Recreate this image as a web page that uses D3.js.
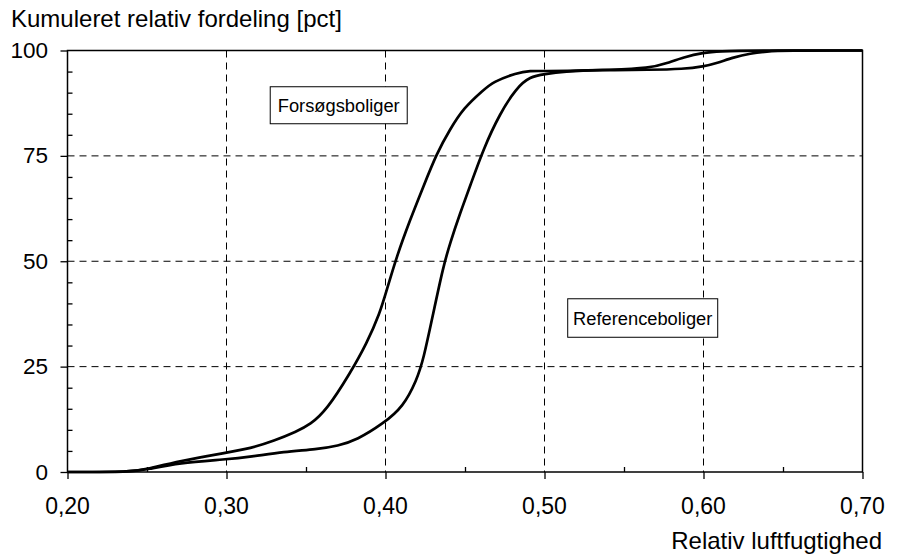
<!DOCTYPE html>
<html>
<head>
  <meta charset="utf-8">
  <title>Kumuleret relativ fordeling</title>
  <style>
    body { margin: 0; background: #fff; }
    text { font-family: "Liberation Sans", Arial, sans-serif; fill: #000; }
  </style>
</head>
<body>
  <div id="plot"></div>
  <script src="https://cdn.jsdelivr.net/npm/d3@7"></script>
  <script>

    // Forsøgsboliger - cumulative distribution
    let forsogX = [0.20, 0.24, 0.25, 0.27, 0.30, 0.315, 0.33, 0.344, 0.3525, 0.363, 0.3777,
                   0.3882, 0.3965, 0.4008, 0.407, 0.4154, 0.4238, 0.4322, 0.4406, 0.449,
                   0.4615, 0.4678, 0.4825, 0.4909, 0.50, 0.52, 0.54, 0.5664, 0.577, 0.5874,
                   0.60, 0.61, 0.63, 0.70];
    let forsogY = [0, 0, 0.7, 2.6, 4.6, 5.6, 7.4, 9.6, 11.2, 14.7, 23.4,
                   30.5, 37.7, 43.2, 51.1, 59.8, 67.7, 75.6, 81.3, 86.3,
                   90.6, 92.6, 94.7, 95.2, 95.1, 95.2, 95.4, 95.8, 97.0, 98.4,
                   99.5, 99.8, 100, 100];

    // Referenceboliger - cumulative distribution
    let refX = [0.20, 0.24, 0.25, 0.27, 0.30, 0.315, 0.336, 0.357, 0.37, 0.382, 0.3986,
                0.4112, 0.4196, 0.4238, 0.43, 0.4363, 0.4406, 0.4469, 0.4531, 0.4615,
                0.472, 0.4825, 0.4909, 0.50, 0.512, 0.535, 0.5664, 0.5874, 0.60, 0.6084,
                0.6189, 0.6294, 0.64, 0.65, 0.70];
    let refY = [0, 0, 0.6, 2.2, 3.0, 3.6, 4.8, 5.4, 6.2, 7.6, 11.5,
                15.5, 21.8, 26.6, 37.6, 48.7, 54.3, 61.4, 67.7, 76.6,
                85.1, 91.2, 93.8, 94.4, 95.0, 95.4, 95.4, 95.6, 96.2, 97.0,
                98.4, 99.3, 99.8, 100, 100];

    let xTicks = [0.20, 0.30, 0.40, 0.50, 0.60, 0.70];
    let xMinor = [0.25, 0.35, 0.45, 0.55, 0.65];
    let yTicks = [0, 25, 50, 75, 100];
    let yMinor = d3.range(5, 100, 5).filter(v => v % 25 !== 0);

    function translate(x, y) {
      return 'translate(' + x + ', ' + y + ')';
    }

    let svgWidth = 900;
    let svgHeight = 555;
    let margin = {top: 50.5, right: 37.5, bottom: 83, left: 67.5};
    let width = svgWidth - margin.left - margin.right;
    let height = svgHeight - margin.top - margin.bottom;

    let root = d3.select('#plot')
      .append('svg')
        .attr('width', svgWidth)
        .attr('height', svgHeight);

    let svg = root.append('g')
      .attr('transform', translate(margin.left, margin.top));

    let x = d3.scaleLinear().domain([0.20, 0.70]).range([0, width]);
    let y = d3.scaleLinear().domain([0, 100]).range([height, 0]);

    let comma = v => d3.format('.2f')(v).replace('.', ',');

    // grid lines
    svg.selectAll('.vgrid')
      .data(xTicks.slice(1, -1))
      .enter()
      .append('line')
        .attr('x1', d => x(d)).attr('x2', d => x(d))
        .attr('y1', 0).attr('y2', height)
        .attr('stroke', '#000')
        .attr('stroke-width', 1)
        .attr('stroke-dasharray', '7,5');

    svg.selectAll('.hgrid')
      .data(yTicks.slice(1, -1))
      .enter()
      .append('line')
        .attr('x1', 0).attr('x2', width)
        .attr('y1', d => y(d)).attr('y2', d => y(d))
        .attr('stroke', '#000')
        .attr('stroke-width', 1)
        .attr('stroke-dasharray', '7,5');

    // frame
    svg.append('rect')
      .attr('width', width)
      .attr('height', height)
      .attr('fill', 'none')
      .attr('stroke', '#000')
      .attr('stroke-width', 1.5);

    // axes
    let xAxis = d3.axisBottom(x).tickValues(xTicks).tickSize(7).tickFormat('');
    let yAxis = d3.axisLeft(y).tickValues(yTicks).tickSize(7).tickFormat('');
    let xMinorAxis = d3.axisTop(x).tickValues(xMinor).tickSize(5).tickFormat('');
    let yMinorAxis = d3.axisRight(y).tickValues(yMinor).tickSize(5).tickFormat('');

    [svg.append('g').attr('transform', translate(0, height)).call(xAxis),
     svg.append('g').call(yAxis),
     svg.append('g').attr('transform', translate(0, height)).call(xMinorAxis),
     svg.append('g').call(yMinorAxis)].forEach(g => {
      g.select('.domain').remove();
      g.selectAll('line').attr('stroke', '#000').attr('stroke-width', 1.3);
    });

    // tick labels
    svg.selectAll('.xlab')
      .data(xTicks)
      .enter()
      .append('text')
        .attr('x', d => x(d))
        .attr('y', 463.5)
        .attr('text-anchor', 'middle')
        .attr('font-size', 23)
        .text(comma);

    svg.selectAll('.ylab')
      .data(yTicks)
      .enter()
      .append('text')
        .attr('x', -19.5)
        .attr('y', d => y(d) + 7.5)
        .attr('text-anchor', 'end')
        .attr('font-size', 22.5)
        .text(d => d);

    // titles
    root.append('text')
      .attr('x', 11)
      .attr('y', 27)
      .attr('font-size', 24)
      .text('Kumuleret relativ fordeling [pct]');

    root.append('text')
      .attr('x', 882)
      .attr('y', 549)
      .attr('text-anchor', 'end')
      .attr('font-size', 24)
      .text('Relativ luftfugtighed');

    // curves
    let line = d3.line()
      .x(d => x(d[0]))
      .y(d => y(d[1]))
      .curve(d3.curveBasis);

    let series = [
      forsogX.map((v, i) => [v, forsogY[i]]),
      refX.map((v, i) => [v, refY[i]])
    ];

    svg.selectAll('.curve')
      .data(series)
      .enter()
      .append('path')
        .attr('d', line)
        .attr('fill', 'none')
        .attr('stroke', '#000')
        .attr('stroke-width', 2.7)
        .attr('stroke-linejoin', 'round');

    // labels in boxes
    let labels = [
      {text: 'Forsøgsboliger', x: 0.3275, y: 91.4, w: 137, h: 37},
      {text: 'Referenceboliger', x: 0.5146, y: 41.1, w: 150, h: 38.5}
    ];

    let lab = svg.selectAll('.lab')
      .data(labels)
      .enter()
      .append('g')
        .attr('transform', d => translate(x(d.x), y(d.y)));

    lab.append('rect')
      .attr('width', d => d.w)
      .attr('height', d => d.h)
      .attr('fill', '#fff')
      .attr('stroke', '#000')
      .attr('stroke-width', 1);

    lab.append('text')
      .attr('x', d => d.w / 2)
      .attr('y', d => d.h / 2 + 6.5)
      .attr('text-anchor', 'middle')
      .attr('font-size', 18.3)
      .text(d => d.text);

  </script>
</body>
</html>
